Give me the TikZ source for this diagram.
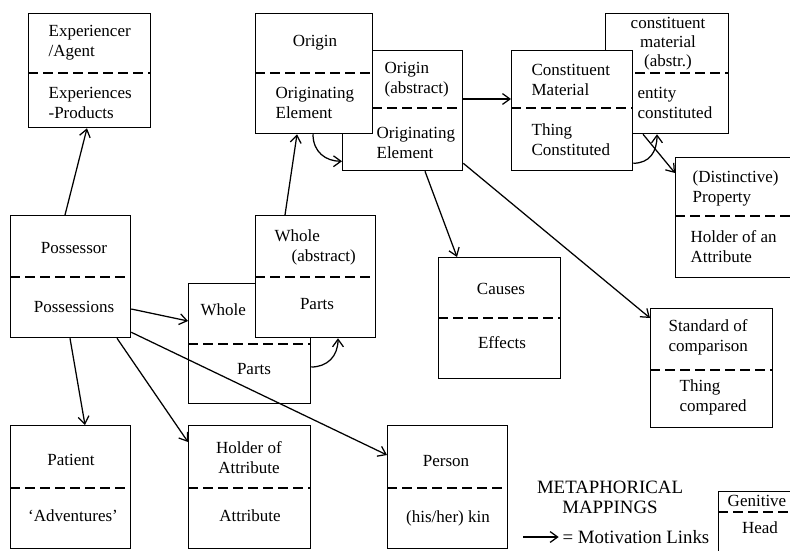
\documentclass[tikz,border=0pt]{standalone}
\usepackage{fontspec}
\setmainfont{Liberation Serif}
\usetikzlibrary{calc,arrows.meta}

\tikzset{
  box/.style={draw, fill=white, anchor=north west, inner sep=0pt, minimum width=72pt, minimum height=72pt},
  divider/.style={dash pattern=on 6pt off 3pt},
  txt/.style={inner sep=0pt, align=left, anchor=west},
  ctxt/.style={inner sep=0pt, align=center}
}

\begin{document}
\begin{tikzpicture}[x=0.6pt, y=-0.6pt, line width=0.75pt, font=\fontsize{10.2}{12}\selectfont,
    >={Straight Barb[length=4.5pt,width=6.5pt]}]
    \useasboundingbox (0,0) rectangle (790,550);

    % Top row
    \node[box, minimum height=68.4pt, minimum width=73.2pt] (exp) at (28,13) {};
    \draw[divider] ($(exp.north west)+(0,60)$) -- ($(exp.north east)+(0,60)$);
    \node[txt] (expT) at (48,43) {Experiencer\\/Agent};
    \node[txt] (expB) at (48,103) {Experiences\\-Products};

    \node[box] (origa) at (342,50) {};
    \draw[divider] ($(origa.north west)+(0,58)$) -- ($(origa.north east)+(0,58)$);
    \node[txt] (origaT) at (384,80) {Origin\\(abstract)};
    \node[txt] (origaB) at (376,143) {Originating\\Element};

    \node[box, minimum width=70.2pt] (orig) at (255,13) {};
    \draw[divider] ($(orig.north west)+(0,60)$) -- ($(orig.north east)+(0,60)$);
    \node[ctxt] (origT) at (315,43) {Origin};
    \node[txt] (origB) at (275,103) {Originating\\Element};

    \node[box, minimum width=73.8pt] (consa) at (605,13) {};
    \draw[divider] ($(consa.north west)+(0,60)$) -- ($(consa.north east)+(0,60)$);
    \node[ctxt, font=\fontsize{10.2}{11.4}\selectfont] (consaT) at (668,44) {constituent\\material\\(abstr.)};
    \node[txt] (consaB) at (637,103) {entity\\constituted};

    \node[box, minimum width=72.6pt] (cons) at (511,50) {};
    \draw[divider] ($(cons.north west)+(0,58)$) -- ($(cons.north east)+(0,58)$);
    \node[txt] (consT) at (531,80) {Constituent\\Material};
    \node[txt] (consB) at (531,140) {Thing\\Constituted};

    \node[box] (prop) at (675,157) {};
    \draw[divider] ($(prop.north west)+(0,59)$) -- ($(prop.north east)+(0,59)$);
    \node[txt] (propT) at (692,188) {(Distinctive)\\Property};
    \node[txt] (propB) at (690,247) {Holder of an\\Attribute};

    % Middle row
    \node[box, minimum height=73.2pt] (poss) at (10,215) {};
    \draw[divider] ($(poss.north west)+(0,62)$) -- ($(poss.north east)+(0,62)$);
    \node[ctxt] (possT) at (74,248) {Possessor};
    \node[ctxt] (possB) at (74,307) {Possessions};

    \node[box, minimum width=73.2pt] (whole) at (188,283) {};
    \draw[divider] ($(whole.north west)+(0,61)$) -- ($(whole.north east)+(0,61)$);
    \node[txt] (wholeT) at (200,310) {Whole};
    \node[ctxt] (wholeB) at (254,369) {Parts};

    \node[box, minimum height=73.2pt] (wholea) at (255,215) {};
    \draw[divider] ($(wholea.north west)+(0,62)$) -- ($(wholea.north east)+(0,62)$);
    \node[txt] (wholeaT) at (274,247) {Whole\\\quad(abstract)};
    \node[ctxt] (wholeaB) at (317,304) {Parts};

    \node[box, minimum width=73.2pt, minimum height=72.6pt] (caus) at (438,257) {};
    \draw[divider] ($(caus.north west)+(0,61)$) -- ($(caus.north east)+(0,61)$);
    \node[ctxt] (causT) at (501,289) {Causes};
    \node[ctxt] (causB) at (502,343) {Effects};

    \node[box, minimum width=73.2pt, minimum height=71.4pt] (std) at (650,308) {};
    \draw[divider] ($(std.north west)+(0,62)$) -- ($(std.north east)+(0,62)$);
    \node[txt] (stdT) at (668,337) {Standard of\\comparison};
    \node[txt] (stdB) at (679,397) {Thing\\compared};

    % Bottom row
    \node[box, minimum height=73.8pt] (pat) at (10,425) {};
    \draw[divider] ($(pat.north west)+(0,63)$) -- ($(pat.north east)+(0,63)$);
    \node[ctxt] (patT) at (71,460) {Patient};
    \node[ctxt] (patB) at (73,516) {`Adventures'};

    \node[box, minimum width=73.2pt, minimum height=73.8pt] (hold) at (188,425) {};
    \draw[divider] ($(hold.north west)+(0,63)$) -- ($(hold.north east)+(0,63)$);
    \node[ctxt] (holdT) at (249,458) {Holder of\\Attribute};
    \node[ctxt] (holdB) at (250,516) {Attribute};

    \node[box, minimum height=73.8pt] (pers) at (387,425) {};
    \draw[divider] ($(pers.north west)+(0,63)$) -- ($(pers.north east)+(0,63)$);
    \node[ctxt] (persT) at (446,461) {Person};
    \node[ctxt] (persB) at (448,518) {(his/her) kin};

    % Legend
    \node[ctxt, font=\fontsize{11.3}{12}\selectfont] (mapT) at (610,497) {METAPHORICAL\\MAPPINGS};
    \coordinate (keyA) at (523,537);
    \node[txt, font=\fontsize{11.3}{12}\selectfont] (mot) at (562,537) {= Motivation Links};
    \draw[->] (keyA) -- ([xshift=-2pt]mot.west);

    \node[box, minimum width=50pt, minimum height=40pt] (key) at (718,491) {};
    \draw[divider] ($(key.north west)+(0,21)$) -- ($(key.north east)+(0,21)$);
    \node[ctxt] (genT) at (757,501) {Genitive};
    \node[ctxt] (headT) at (760,528) {Head};

    % Motivation links
    \draw[->] ($(poss.north west)+(55,0)$) -- ($(exp.south west)+(59,0)$);
    \draw[->] ($(wholea.north west)+(30,0)$) -- ($(orig.south west)+(42,0)$);
    \draw[->] ($(orig.south west)+(58,0)$) .. controls +(0,18) and +(-16,0) .. ($(origa.south west)+(0,-10)$);
    \draw[->] ($(origa.north east)+(0,49)$) -- ($(cons.north west)+(0,49)$);
    \draw[->] ($(cons.south east)+(0,-8)$) .. controls +(16,0) and +(0,18) .. ($(consa.south west)+(52,0)$);
    \draw[->] ($(consa.south west)+(38,0)$) -- ($(prop.north west)+(0,16)$);
    \draw[->] ($(origa.south west)+(83,0)$) -- ($(caus.north west)+(19,0)$);
    \draw[->] ($(origa.south east)+(0,-8)$) -- ($(std.north west)+(0,10)$);
    \draw[->] ($(poss.north east)+(0,94)$) -- ($(whole.north west)+(0,38)$);
    \draw[->] ($(poss.south east)+(0,-6)$) -- ($(pers.north west)+(0,30)$);
    \draw[->] ($(poss.south west)+(60,0)$) -- ($(pat.north west)+(75,0)$);
    \draw[->] ($(poss.south west)+(107,0)$) -- ($(hold.north west)+(0,17)$);
    \draw[->] ($(whole.north east)+(0,84)$) .. controls +(16,0) and +(0,18) .. ($(wholea.south west)+(83,0)$);

\end{tikzpicture}
\end{document}
